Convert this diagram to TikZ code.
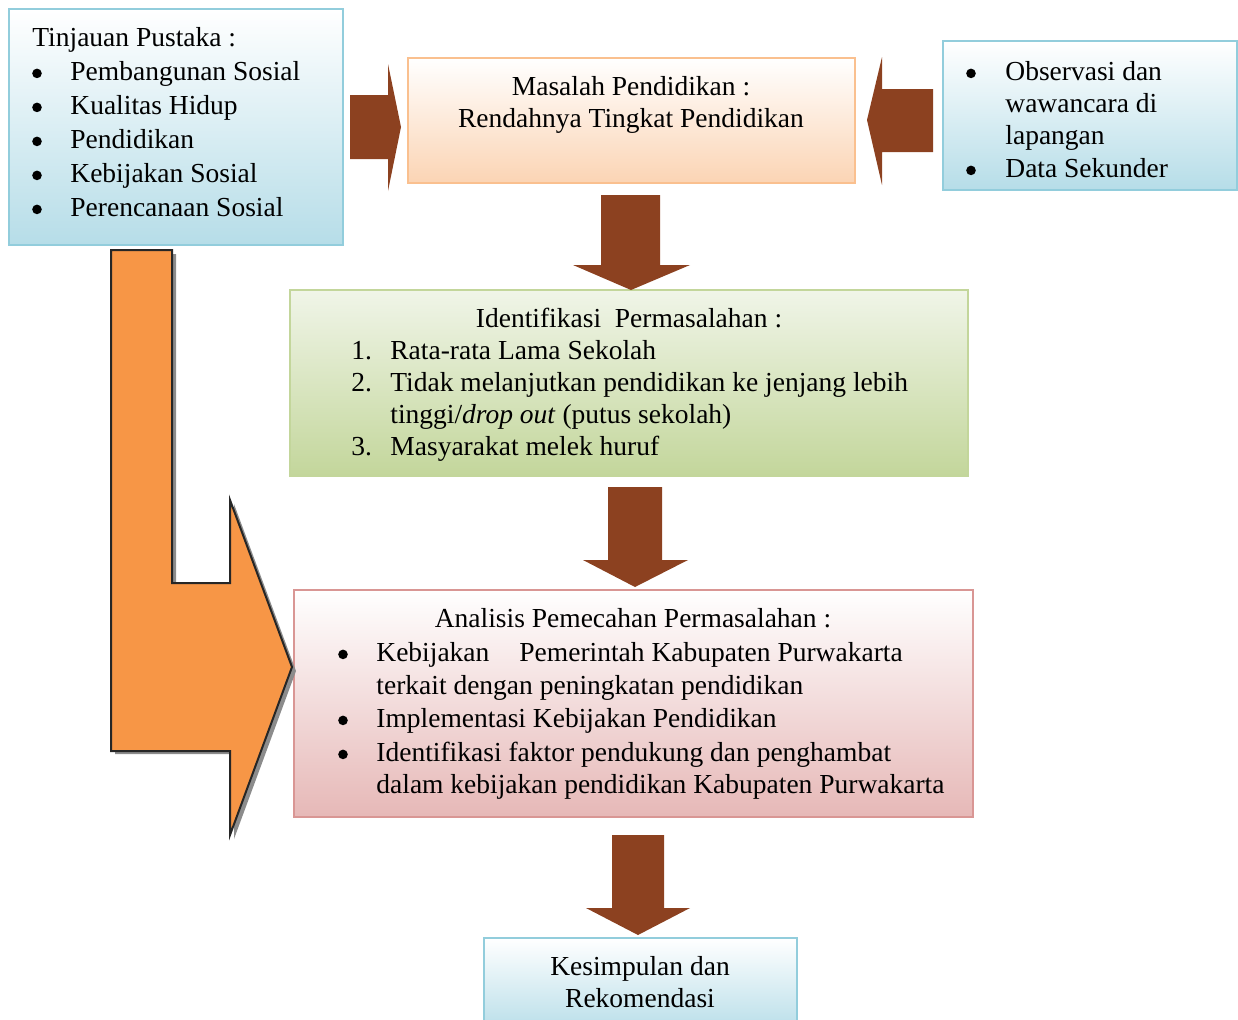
\documentclass[tikz,border=0pt]{standalone}
\usepackage{fontspec}
\setmainfont{Liberation Serif}
\definecolor{bborder}{RGB}{146,205,220}
\definecolor{bfill}{RGB}{182,221,232}
\definecolor{pborder}{RGB}{250,192,143}
\definecolor{pfill}{RGB}{251,212,180}
\definecolor{gborder}{RGB}{195,214,155}
\definecolor{gfill}{RGB}{195,214,155}
\definecolor{gtop}{RGB}{240,245,232}
\definecolor{rborder}{RGB}{217,150,148}
\definecolor{rfill}{RGB}{230,184,183}
\definecolor{brownarrow}{RGB}{140,65,32}
\definecolor{orangearrow}{RGB}{247,150,70}
\begin{document}
\begin{tikzpicture}[x=0.5pt,y=-0.5pt,
  font=\fontsize{13.75pt}{17pt}\selectfont,
  box/.style={draw, line width=1pt, anchor=north west, inner sep=0pt, outer sep=0pt},
  bluebox/.style={box, draw=bborder, top color=white, bottom color=bfill},
  peachbox/.style={box, draw=pborder, top color=white, bottom color=pfill},
  greenbox/.style={box, draw=gborder, top color=gtop, bottom color=gfill},
  redbox/.style={box, draw=rborder, top color=white, bottom color=rfill},
  txt/.style={anchor=mid west, inner sep=0pt, yshift=-2.5pt},
  ctxt/.style={anchor=mid, inner sep=0pt, yshift=-2.5pt},
  bul/.style={circle, fill=black, draw=none, inner sep=0pt, minimum size=4.8pt, yshift=-1.2pt},
  blockarrow/.style={fill=brownarrow, draw=none}]
\useasboundingbox (0,0) rectangle (1238,1019);

% boxes
\node[bluebox, minimum width=167pt, minimum height=118pt] (tp) at (9,9) {};
\node[peachbox, minimum width=223.5pt, minimum height=62.5pt] (mp) at (408,58) {};
\node[bluebox, minimum width=147pt, minimum height=74.5pt] (ob) at (943,41) {};
\node[greenbox, minimum width=339pt, minimum height=93pt] (id) at (290,290) {};
\node[redbox, minimum width=339.5pt, minimum height=113.5pt] (an) at (294,590) {};
\node[bluebox, minimum width=156.5pt, minimum height=48pt] (ks) at (484,938) {};

% orange L arrow with shadow
\fill[black!45] (115,254) -- (176,254) -- (176,587) -- (234,587) -- (234,504) -- (296,671) -- (234,839) -- (234,754) -- (115,754) -- cycle;
\filldraw[fill=orangearrow, draw=black!85, line width=1pt] (111,250) -- (172,250) -- (172,583) -- (230,583) -- (230,500) -- (292,667) -- (230,835) -- (230,751) -- (111,751) -- cycle;

% brown block arrows
\fill[blockarrow] (350,95) -- (388,95) -- (388,64) -- (401,127) -- (388,191) -- (388,159) -- (350,159) -- cycle;
\fill[blockarrow] (933,89) -- (882,89) -- (882,57) -- (867,120) -- (882,185) -- (882,152) -- (933,152) -- cycle;
\fill[blockarrow] (601,195) -- (660,195) -- (660,265) -- (690,265) -- (631,290) -- (573,265) -- (601,265) -- cycle;
\fill[blockarrow] (608,487) -- (662,487) -- (662,560) -- (688,560) -- (635,587) -- (583,560) -- (608,560) -- cycle;
\fill[blockarrow] (612,835) -- (664,835) -- (664,908) -- (690,908) -- (638,935) -- (586,908) -- (612,908) -- cycle;

% Tinjauan Pustaka
\node[txt] (tpt) at (32,37) {Tinjauan Pustaka :};
\foreach \y/\t [count=\i] in {71/Pembangunan Sosial,105/Kualitas Hidup,139/Pendidikan,173/Kebijakan Sosial,207/Perencanaan Sosial}{
  \node[bul] (tpb\i) at (37,\y) {};
  \node[txt] (tpi\i) at (70,\y) {\t};
}

% Masalah
\node[ctxt] (mp1) at (631,86) {Masalah Pendidikan :};
\node[ctxt] (mp2) at (631,118) {Rendahnya Tingkat Pendidikan};

% Observasi
\node[bul] (obb1) at (971,71) {};
\node[txt] (ob1) at (1005,71) {Observasi dan};
\node[txt] (ob2) at (1005,103) {wawancara di};
\node[txt] (ob3) at (1005,135) {lapangan};
\node[bul] (obb2) at (971,168) {};
\node[txt] (ob4) at (1005,168) {Data Sekunder};

% Identifikasi
\node[ctxt] (idt) at (629,318) {Identifikasi\ \ Permasalahan :};
\node[txt] (idn1) at (351,350) {1.};
\node[txt] (id1) at (390,350) {Rata-rata Lama Sekolah};
\node[txt] (idn2) at (351,382) {2.};
\node[txt] (id2) at (390,382) {Tidak melanjutkan pendidikan ke jenjang lebih};
\node[txt] (id2b) at (390,414) {tinggi/\textit{drop out} (putus sekolah)};
\node[txt] (idn3) at (351,446) {3.};
\node[txt] (id3) at (390,446) {Masyarakat melek huruf};

% Analisis
\node[ctxt] (ant) at (633,618) {Analisis Pemecahan Permasalahan :};
\node[bul] (anb1) at (343,652) {};
\node[txt] (an1) at (376,652) {Kebijakan\hspace{15pt}Pemerintah Kabupaten Purwakarta};
\node[txt] (an1b) at (376,685) {terkait dengan peningkatan pendidikan};
\node[bul] (anb2) at (343,718) {};
\node[txt] (an2) at (376,718) {Implementasi Kebijakan Pendidikan};
\node[bul] (anb3) at (343,752) {};
\node[txt] (an3) at (376,752) {Identifikasi faktor pendukung dan penghambat};
\node[txt] (an3b) at (376,784) {dalam kebijakan pendidikan Kabupaten Purwakarta};

% Kesimpulan
\node[ctxt] (ks1) at (640,966) {Kesimpulan dan};
\node[ctxt] (ks2) at (640,998) {Rekomendasi};
\end{tikzpicture}
\end{document}
